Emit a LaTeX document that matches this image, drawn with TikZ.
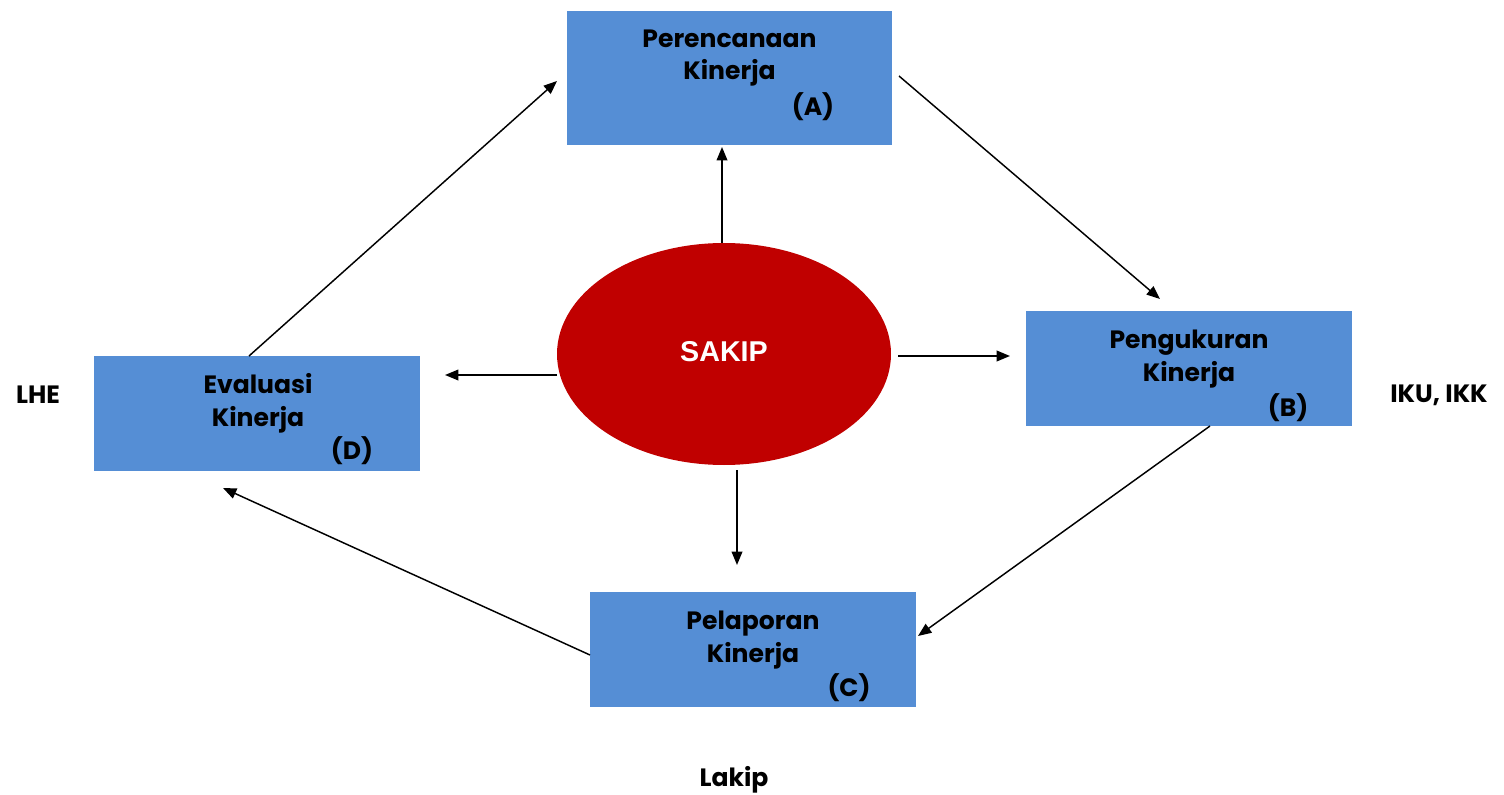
\documentclass[tikz,border=0pt]{standalone}
\usepackage{fontspec}
\setmainfont{Poppins}[BoldFont={* Bold}]
\newfontfamily\arialfont{Liberation Sans}
\usetikzlibrary{shapes.geometric,arrows.meta}
\definecolor{boxblue}{RGB}{85,142,213}
\definecolor{sakipred}{RGB}{192,0,0}
\tikzset{
  x=0.75pt, y=-0.75pt,
  procbox/.style={draw=none, fill=boxblue, minimum width=244pt, minimum height=86.25pt, inner sep=0pt},
  boxtext/.style={font=\bfseries\fontsize{18.8}{24.5}\selectfont, align=center, inner sep=0pt},
  sidetext/.style={font=\bfseries\fontsize{18.8}{22}\selectfont, inner sep=0pt},
  conn/.style={line width=1.1pt, -{Triangle[length=10pt,width=8pt]}},
}
\begin{document}
\begin{tikzpicture}
\useasboundingbox (0,0) rectangle (1504,795);
% boxes
\node[procbox, minimum height=100.5pt] (A) at (729.5,78) {};
\node[procbox] (B) at (1189,368.5) {};
\node[procbox] (C) at (753,649.5) {};
\node[procbox] (D) at (257,413.5) {};
% ellipse
\node[ellipse, fill=sakipred, minimum width=250.5pt, minimum height=166.5pt, inner sep=0pt] (S) at (724,354) {};
\node[font=\arialfont\bfseries\fontsize{21.5}{24}\selectfont, text=white, inner sep=0pt] (St) at (724,352) {SAKIP};
% box texts
\node[boxtext] (At) at (729.5,58) {Perencanaan\\Kinerja};
\node[boxtext] (Al) at (813,107) {(A)};
\node[boxtext] (Bt) at (1189,359) {Pengukuran\\Kinerja};
\node[boxtext] (Bl) at (1288,408) {(B)};
\node[boxtext] (Ct) at (753,640) {Pelaporan\\Kinerja};
\node[boxtext] (Cl) at (849,688) {(C)};
\node[boxtext] (Dt) at (258,403) {Evaluasi\\Kinerja};
\node[boxtext] (Dl) at (352,451) {(D)};
% side labels
\node[sidetext] (LHE) at (38,395) {LHE};
\node[sidetext] (IKU) at (1439,395) {IKU, IKK};
\node[sidetext] (Lakip) at (734,780) {Lakip};
% coordinates
\coordinate (d1) at (249,356);
\coordinate (a1) at (557,81);
\coordinate (a2) at (899,76);
\coordinate (b1) at (1160,299);
\coordinate (b2) at (1210,426);
\coordinate (c1) at (918,636);
\coordinate (c2) at (590,655);
\coordinate (d2) at (223,488);
\coordinate (s1) at (722,243);
\coordinate (a3) at (722,147);
\coordinate (s2) at (898,356);
\coordinate (b3) at (1010,356);
\coordinate (s3) at (557,375);
\coordinate (d3) at (445,375);
\coordinate (s4) at (737,470);
\coordinate (c3) at (737,565);
% connectors
\draw[conn] (d1) -- (a1);
\draw[conn] (a2) -- (b1);
\draw[conn] (b2) -- (c1);
\draw[conn] (c2) -- (d2);
\draw[conn] (s1) -- (a3);
\draw[conn] (s2) -- (b3);
\draw[conn] (s3) -- (d3);
\draw[conn] (s4) -- (c3);
\end{tikzpicture}
\end{document}
